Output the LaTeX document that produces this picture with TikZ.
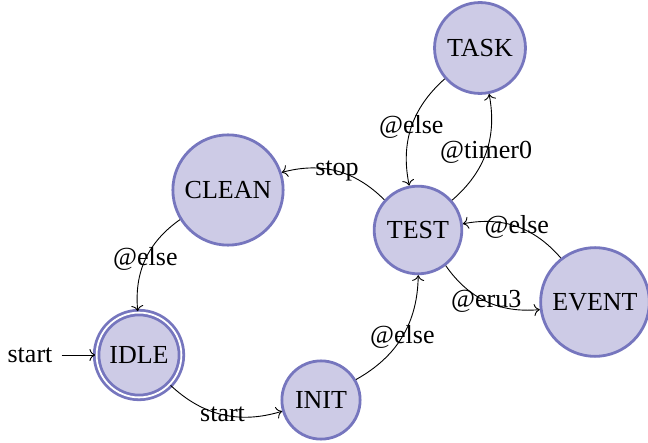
\documentclass[tikz,border=0pt]{standalone}
\usepackage{fontspec}
\setmainfont{Liberation Serif}
\usetikzlibrary{positioning,arrows.meta}
\definecolor{statefill}{RGB}{205,203,230}
\definecolor{stateline}{RGB}{118,118,190}
\tikzset{
  statenode/.style={circle,draw=stateline,fill=statefill,line width=2.8pt,inner sep=9pt},
  idlenode/.style={statenode,double=white,double distance=1.8pt},
  trans/.style={-{To[scale=1.6]},line width=0.9pt,bend right=30}
}
\begin{document}
\begin{tikzpicture}[x=1pt,y=1pt,font=\fontsize{26}{31}\selectfont]
  \useasboundingbox (0,0) rectangle (648,442);
  % states
  \node[statenode] (task) at (480,394) {TASK};
  \node[statenode] (test) at (418,212) {TEST};
  \node[statenode] (clean) at (228,252) {CLEAN};
  \node[statenode] (event) at (595,140) {EVENT};
  \node[idlenode] (idle) at (139,87) {IDLE};
  \node[statenode] (init) at (321,42) {INIT};
  \node[inner sep=9pt] (start) at (30,87) {start};
  % transitions
  \draw[-{To[scale=1.6]},line width=0.9pt] (start) -- (idle);
  \draw[trans] (idle) to node {start} (init);
  \draw[trans] (init) to node {@else} (test);
  \draw[trans] (test) to node {stop} (clean);
  \draw[trans] (clean) to node {@else} (idle);
  \draw[trans] (test) to node {@timer0} (task);
  \draw[trans] (task) to node {@else} (test);
  \draw[trans] (test) to node {@eru3} (event);
  \draw[trans] (event) to node {@else} (test);
\end{tikzpicture}
\end{document}
